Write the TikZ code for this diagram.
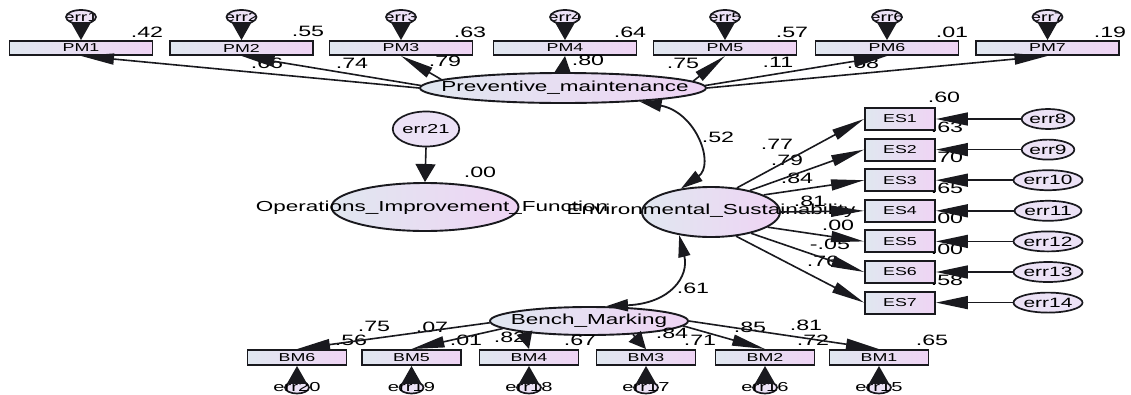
\documentclass[tikz,border=0pt]{standalone}
\usepackage{fontspec}
\setmainfont{Liberation Sans}[FakeStretch=1.55]
\usetikzlibrary{arrows.meta,shapes.geometric}

\definecolor{ink}{RGB}{25,25,30}
\definecolor{fillL}{RGB}{224,231,240}
\definecolor{fillR}{RGB}{239,212,244}
\definecolor{errfill}{RGB}{236,226,246}

\tikzset{
  ind/.style={rectangle, draw=ink, line width=1.9pt, left color=fillL, right color=fillR,
              inner sep=0pt, font=\fontsize{11.5}{11.5}\selectfont},
  pmbox/.style={ind, minimum width=143pt, minimum height=14pt},
  esbox/.style={ind, minimum width=70pt, minimum height=22pt},
  bmbox/.style={ind, minimum width=99pt, minimum height=15pt},
  latent/.style={ellipse, draw=ink, line width=1.9pt, left color=fillL, right color=fillR, inner sep=0pt},
  lname/.style={inner sep=0pt, font=\fontsize{14.5}{14.5}\selectfont},
  num/.style={inner sep=0pt, font=\fontsize{15}{15}\selectfont},
  errv/.style={ellipse, draw=ink, line width=1.7pt, fill=errfill, inner sep=0pt},
  errtop/.style={errv, minimum width=30pt, minimum height=14pt},
  errright/.style={errv, minimum width=50pt, minimum height=20pt, font=\fontsize{13.5}{13.5}\selectfont},
  errbot/.style={errv, minimum width=24pt, minimum height=12pt},
  errtxt/.style={inner sep=0pt, font=\fontsize{13}{13}\selectfont},
  load/.style={draw=ink, line width=1.6pt, -{Triangle[length=33pt,width=11pt]}},
  vload/.style={draw=ink, line width=1.6pt, -{Triangle[length=17pt,width=16pt]}},
  errarrow/.style={draw=ink, line width=1.6pt, -{Triangle[length=18pt,width=20pt]}},
  errside/.style={draw=ink, line width=1.6pt, -{Triangle[length=32pt,width=13pt]}},
  cov/.style={draw=ink, line width=1.8pt, {Triangle[length=22pt,width=12pt]}-{Triangle[length=22pt,width=12pt]}},
}

\begin{document}
\begin{tikzpicture}[x=1pt,y=-1pt]
\fill[white] (0,0) rectangle (1131,394);
\useasboundingbox (0,0) rectangle (1131,394);

% ---------- Preventive maintenance block ----------
\foreach \i/\x in {1/81,2/241.5,3/401,4/565,5/725,6/887,7/1047.5}{
  \node[pmbox] (PM\i) at (\x,48) {PM\i};
  \node[errtop, path picture={\node[inner sep=0pt, font=\fontsize{12.5}{12.5}\selectfont] (e\i t)
        at (path picture bounding box.center) {err\i};}] (e\i) at (\x,17) {};
  \draw[errarrow] (e\i.south) -- (PM\i.north);
}
\foreach \p/\t in {{(147,32)}/.42,{(308,31)}/.55,{(470,32)}/.63,{(630,32)}/.64,
                   {(792,32)}/.57,{(952,32)}/.01,{(1110,32)}/.19}
  \node[num] at \p {\t};
\foreach \p/\t in {{(267,63)}/.66,{(352,63)}/.74,{(445,61)}/.79,{(588,60)}/.80,
                   {(683,63)}/.75,{(778,62)}/.11,{(863,63)}/.68}
  \node[num] at \p {\t};

\node[latent, minimum width=286pt, minimum height=30pt] (pm) at (563,88) {};
\node[lname] (pmt) at (565,88) {Preventive\_maintenance};

\draw[load] (pm.180) -- (PM1.south);
\draw[load] (pm.179) -- (PM2.south);
\draw[load] (pm.176) -- (PM3.south);
\draw[vload] (pm.north) -- (PM4.south);
\draw[load] (pm.3) -- (PM5.south);
\draw[load] (pm.1) -- (PM6.south);
\draw[load] (pm.0) -- (PM7.south);

% ---------- Operations improvement function ----------
\node[errv, minimum width=50pt, minimum height=35pt, font=\fontsize{13}{13}\selectfont] (err21) at (426,129) {err21};
\node[latent, minimum width=187pt, minimum height=48pt] (oif) at (425,207) {};
\node[lname] (oift) at (432,208) {Operations\_Improvement\_Function};
\draw[errarrow] (err21.south) -- (oif.north);
\node[num] at (480,172) {.00};

% ---------- Environmental sustainability block ----------
\node[latent, minimum width=138pt, minimum height=50pt] (env) at (711,212) {};

\foreach \i/\y in {1/119,2/149.6,3/180.2,4/210.8,5/241.4,6/272,7/302.6}{
  \node[esbox] (ES\i) at (900,\y) {ES\i};
}
\foreach \i/\n/\y in {1/8/119,2/9/149.6,3/10/180.2,4/11/210.8,5/12/241.4,6/13/272,7/14/302.6}{
  \node[errright] (e\n) at (1048,\y) {err\n};
}
\node[num] at (944,97) {.60};
\foreach \y/\t in {127/.63,157.6/.70,188.2/.65,218.8/.00,249.4/.00,280/.58}
  \node[num] at (947,\y) {\t};
\foreach \i/\n in {1/8,2/9,3/10,4/11,5/12,6/13,7/14}
  \draw[errside] (e\n.west) -- (ES\i.east);

\node[lname] (envt) at (711,211) {Environmental\_Sustainability};

\foreach \p/\t in {{(777,144)}/.77,{(787,160)}/.79,{(797,178)}/.84,{(810,201)}/.81,
                   {(838,225)}/.00,{(830,244)}/-.05,{(823,261)}/.76}
  \node[num] at \p {\t};
\draw[load] (env.43) -- (ES1.west);
\draw[load] (env.29) -- (ES2.west);
\draw[load] (env.18) -- (ES3.west);
\draw[load] (env.0) -- (ES4.west);
\draw[load] (env.-15) -- (ES5.west);
\draw[load] (env.-28) -- (ES6.west);
\draw[load] (env.-44) -- (ES7.west);

% ---------- Bench marking block ----------
\node[latent, minimum width=198pt, minimum height=28pt] (bm) at (589,321) {};
\node[lname] (bmt) at (589,321) {Bench\_Marking};

\foreach \i/\n/\x in {6/20/297,5/19/411.5,4/18/529,3/17/646,2/16/765,1/15/879}{
  \node[bmbox] (BM\i) at (\x,357.5) {BM\i};
  \node[errbot] (e\n) at (\x,387.5) {};
  \node[errtxt] (e\n t) at (\x,387.5) {err\n};
  \draw[errarrow] (e\n.north) -- (BM\i.south);
}
\foreach \p/\t in {{(374,326)}/.75,{(432,327)}/.07,{(351,340)}/.56,{(466,340)}/.01,
                   {(510,337)}/.82,{(580,340)}/.67,{(672,333)}/.84,{(700,340)}/.71,
                   {(750,327)}/.85,{(806,325)}/.81,{(813,340)}/.72,{(932,340)}/.65}
  \node[num] at \p {\t};
\draw[load] (bm.181) -- (BM6.north);
\draw[load] (bm.185) -- (BM5.north);
\draw[vload] (bm.190.75) -- (BM4.north);
\draw[vload] (bm.-17) -- (BM3.north);
\draw[load] (bm.-3) -- (BM2.north);
\draw[load] (bm.0) -- (BM1.north);

% ---------- Covariances between factors ----------
\draw[cov] (pm.-10) .. controls +(57,11) and +(34,-24) .. (env.142);
\draw[cov] (env.216) .. controls +(10,41) and +(65,-3) .. (bm.41);
\node[num] at (718,137) {.52};
\node[num] at (693,288) {.61};
\end{tikzpicture}
\end{document}
